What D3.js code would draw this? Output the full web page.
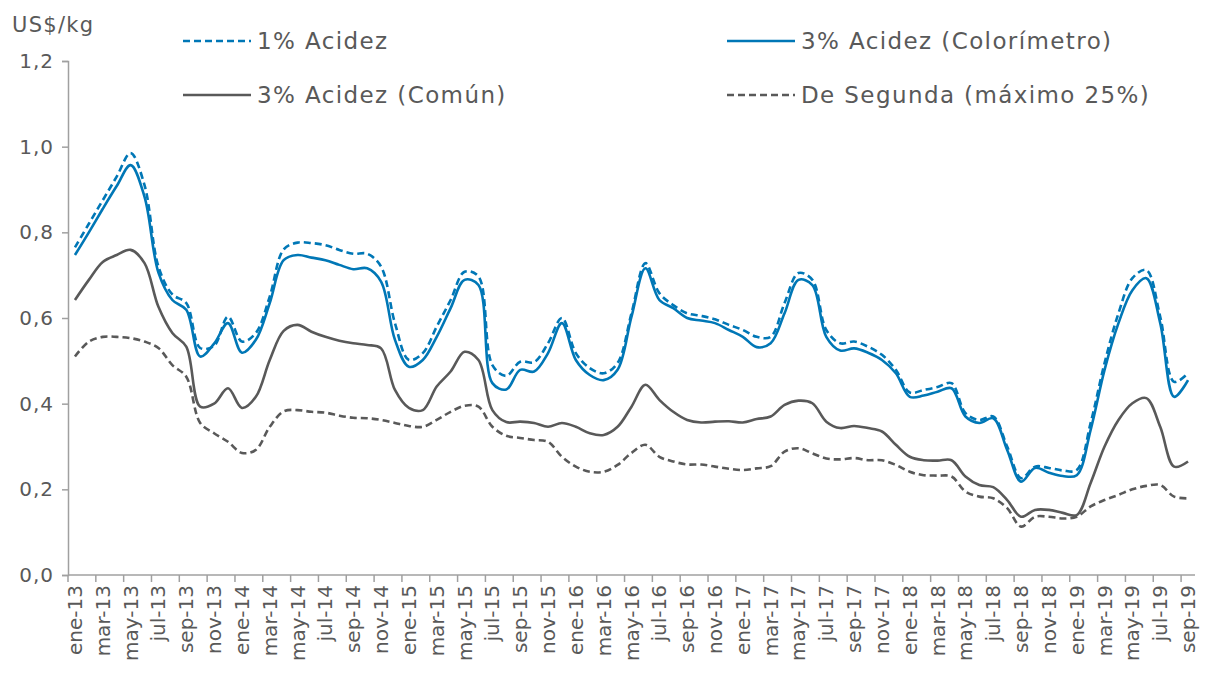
<!DOCTYPE html>
<html>
<head>
<meta charset="utf-8">
<script src="https://cdn.jsdelivr.net/npm/d3@7"></script>
<style>
  body { margin: 0; background: #fff; }
  svg text { font-family: "DejaVu Sans", "Noto Sans", sans-serif; fill: #595959; }
</style>
</head>
<body>
<div id="chart"></div>
<script>
// categories: monthly, ene-13 .. sep-19
const monthAbbr = ["ene","feb","mar","abr","may","jun","jul","ago","sep","oct","nov","dic"];
const years = ["13","14","15","16","17","18","19"];
const months = [];
years.forEach(y => monthAbbr.forEach(m => months.push(m + "-" + y)));
months.splice(81); // up to sep-19

const yTicks = [0, 0.2, 0.4, 0.6, 0.8, 1.0, 1.2];

// US$/kg
const acidez1 = [
  0.765, 0.82, 0.875, 0.93, 0.985, 0.91, 0.72, 0.655, 0.635, 0.53, 0.535, 0.603,
  0.545, 0.565, 0.65, 0.76, 0.776, 0.775, 0.77, 0.759, 0.75, 0.75, 0.72, 0.588,
  0.502, 0.518, 0.58, 0.642, 0.708, 0.697, 0.49, 0.465, 0.498, 0.497, 0.541, 0.600,
  0.518, 0.483, 0.471, 0.495, 0.611, 0.728, 0.658, 0.630, 0.611, 0.605, 0.597, 0.584,
  0.572, 0.556, 0.556, 0.635, 0.705, 0.689, 0.572, 0.541, 0.545, 0.533, 0.514, 0.479,
  0.426, 0.432, 0.439, 0.448, 0.378, 0.362, 0.37, 0.30, 0.226, 0.253, 0.25, 0.244,
  0.245, 0.355, 0.495, 0.611, 0.693, 0.712, 0.603, 0.451, 0.471
];
const acidez3Color = [
  0.747, 0.80, 0.855, 0.908, 0.957, 0.883, 0.706, 0.642, 0.619, 0.51, 0.54, 0.588,
  0.519, 0.549, 0.635, 0.735, 0.747, 0.741, 0.735, 0.724, 0.714, 0.716, 0.685, 0.549,
  0.486, 0.502, 0.556, 0.623, 0.689, 0.677, 0.448, 0.433, 0.479, 0.475, 0.518, 0.588,
  0.502, 0.467, 0.455, 0.479, 0.603, 0.716, 0.642, 0.623, 0.600, 0.594, 0.588, 0.572,
  0.556, 0.532, 0.541, 0.611, 0.689, 0.677, 0.556, 0.524, 0.529, 0.519, 0.502, 0.471,
  0.416, 0.419, 0.428, 0.436, 0.37, 0.355, 0.366, 0.292, 0.218, 0.25, 0.239, 0.231,
  0.233, 0.339, 0.479, 0.588, 0.665, 0.693, 0.588, 0.416, 0.455
];
const acidez3Comun = [
  0.642, 0.689, 0.731, 0.747, 0.759, 0.728, 0.626, 0.565, 0.533, 0.393, 0.40, 0.436,
  0.39, 0.416, 0.502, 0.57, 0.584, 0.568, 0.556, 0.547, 0.541, 0.537, 0.529, 0.432,
  0.39, 0.385, 0.44, 0.475, 0.521, 0.502, 0.385, 0.357, 0.358, 0.355, 0.346, 0.355,
  0.346, 0.331, 0.327, 0.346, 0.393, 0.444, 0.409, 0.381, 0.362, 0.356, 0.358, 0.359,
  0.356, 0.364, 0.37, 0.397, 0.407, 0.401, 0.358, 0.343, 0.348, 0.343, 0.335, 0.304,
  0.276, 0.268, 0.267, 0.268, 0.23, 0.21, 0.205, 0.175, 0.136, 0.152, 0.152, 0.145,
  0.14, 0.215, 0.30, 0.362, 0.401, 0.413, 0.346, 0.253, 0.265
];
const deSegunda = [
  0.51, 0.545, 0.556, 0.556, 0.553, 0.545, 0.53, 0.49, 0.463, 0.355, 0.331, 0.311,
  0.285, 0.292, 0.346, 0.382, 0.385, 0.381, 0.379, 0.372, 0.367, 0.366, 0.362, 0.355,
  0.348, 0.346, 0.362, 0.381, 0.395, 0.393, 0.346, 0.325, 0.32, 0.315, 0.311, 0.276,
  0.253, 0.241, 0.241, 0.257, 0.285, 0.304, 0.276, 0.265, 0.258, 0.258, 0.253, 0.248,
  0.245, 0.249, 0.254, 0.288, 0.296, 0.284, 0.272, 0.27, 0.273, 0.268, 0.268, 0.257,
  0.241, 0.233, 0.232, 0.23, 0.195, 0.183, 0.179, 0.156, 0.113, 0.136, 0.136, 0.132,
  0.136, 0.16, 0.175, 0.187, 0.2, 0.208, 0.21, 0.183, 0.179
];

const blue = "#0077b6";
const grey = "#595959";

const series = [
  { name: "1% Acidez", values: acidez1, color: blue, dash: "7,4" },
  { name: "3% Acidez (Colorímetro)", values: acidez3Color, color: blue, dash: null },
  { name: "3% Acidez (Común)", values: acidez3Comun, color: grey, dash: null },
  { name: "De Segunda (máximo 25%)", values: deSegunda, color: grey, dash: "7,4" }
];

const width = 1207, height = 688;
const margin = { top: 61, right: 12, bottom: 113, left: 68 };

const svg = d3.select("#chart").append("svg")
  .attr("width", width)
  .attr("height", height);

const xScale = d3.scaleBand()
  .domain(months)
  .range([margin.left, width - margin.right])
  .padding(0);

const yScale = d3.scaleLinear()
  .domain([0, 1.2])
  .range([height - margin.bottom, margin.top]);

const fmt = d => d3.format(".1f")(d).replace(".", ",");

// y axis
const yAxis = svg.append("g")
  .attr("transform", `translate(${margin.left},0)`)
  .call(d3.axisLeft(yScale).tickValues(yTicks).tickFormat(fmt).tickSize(6).tickPadding(8));
yAxis.attr("font-family", null);
yAxis.selectAll("text").style("font-size", "20px").style("letter-spacing", "1px");

// x axis: ticks every two months at band edges, labels at band centres
const xAxisG = svg.append("g")
  .attr("transform", `translate(0,${height - margin.bottom})`);
xAxisG.append("line")
  .attr("x1", margin.left).attr("x2", width - margin.right)
  .attr("y1", 0).attr("y2", 0);
xAxisG.selectAll(".tick-mark")
  .data(months.filter((m, i) => i % 2 === 0))
  .join("line")
  .attr("class", "tick-mark")
  .attr("x1", d => xScale(d)).attr("x2", d => xScale(d))
  .attr("y1", 0).attr("y2", 7);
xAxisG.selectAll(".tick-label")
  .data(months.filter((m, i) => i % 2 === 0))
  .join("text")
  .attr("class", "tick-label")
  .attr("transform", d => `translate(${xScale(d) + xScale.bandwidth() / 2 + 7},10) rotate(-90)`)
  .attr("text-anchor", "end")
  .style("font-size", "20px")
  .text(d => d);

svg.selectAll(".domain, .tick line, g line").attr("stroke", "#a0a0a0").attr("stroke-width", 1.5);

// lines
const line = d3.line()
  .x((d, i) => xScale(months[i]) + xScale.bandwidth() / 2)
  .y(d => yScale(d))
  .curve(d3.curveCatmullRom.alpha(0.5));

svg.append("g").selectAll("path")
  .data(series.slice().reverse())
  .join("path")
  .attr("fill", "none")
  .attr("stroke", d => d.color)
  .attr("stroke-width", 2.6)
  .attr("stroke-dasharray", d => d.dash)
  .attr("d", d => line(d.values));

// unit label
svg.append("text")
  .attr("x", 12).attr("y", 32)
  .style("font-size", "21px")
  .style("letter-spacing", "1.3px")
  .text("US$/kg");

// legend
const legendPos = [[183, 41], [727, 41], [183, 95], [727, 95]];
const legend = svg.append("g").selectAll("g")
  .data(series)
  .join("g")
  .attr("transform", (d, i) => `translate(${legendPos[i][0]},${legendPos[i][1]})`);
legend.append("line")
  .attr("x1", 0).attr("x2", 68)
  .attr("stroke", d => d.color)
  .attr("stroke-width", 2.6)
  .attr("stroke-dasharray", d => d.dash);
legend.append("text")
  .attr("x", 74).attr("dy", "0.35em")
  .style("font-size", "23px")
  .style("letter-spacing", "1.4px")
  .text(d => d.name);
</script>
</body>
</html>
